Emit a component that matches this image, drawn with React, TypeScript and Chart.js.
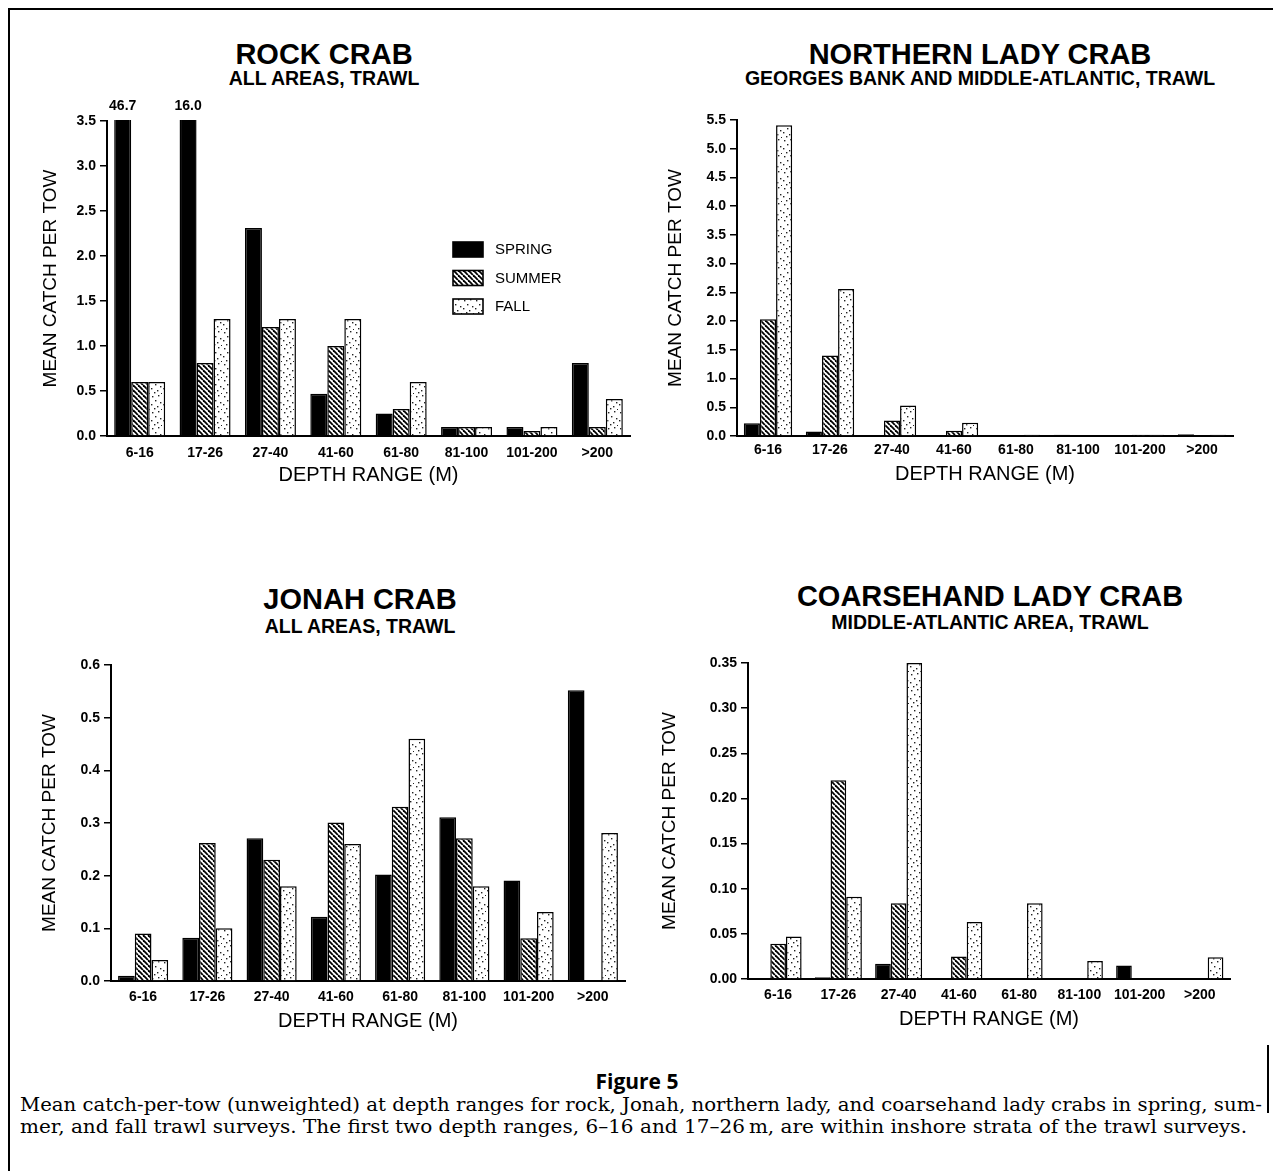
import React, { useEffect, useLayoutEffect, useRef } from "react";
import { Chart, registerables } from "chart.js";
Chart.register(...registerables);

// ---------------- DATA ----------------
const depthRanges = ["6-16", "17-26", "27-40", "41-60", "61-80", "81-100", "101-200", ">200"];
const seasons = ["SPRING", "SUMMER", "FALL"];

const rockSpring = [46.7, 16.0, 2.31, 0.47, 0.25, 0.1, 0.1, 0.81];
const rockSummer = [0.6, 0.81, 1.21, 1.0, 0.3, 0.1, 0.055, 0.1];
const rockFall = [0.6, 1.3, 1.3, 1.3, 0.6, 0.1, 0.1, 0.41];
const rockYTicks = [0, 0.5, 1.0, 1.5, 2.0, 2.5, 3.0, 3.5];

const northernSpring = [0.22, 0.08, 0.01, 0.01, 0.01, 0.02, 0.01, 0.03];
const northernSummer = [2.03, 1.4, 0.27, 0.09, 0.01, 0.01, 0.02, 0.01];
const northernFall = [5.41, 2.56, 0.53, 0.23, 0.02, 0.01, 0.02, 0.02];
const northernYTicks = [0, 0.5, 1.0, 1.5, 2.0, 2.5, 3.0, 3.5, 4.0, 4.5, 5.0, 5.5];

const jonahSpring = [0.01, 0.082, 0.271, 0.122, 0.202, 0.311, 0.191, 0.552];
const jonahSummer = [0.09, 0.262, 0.23, 0.301, 0.331, 0.271, 0.081, 0.0];
const jonahFall = [0.04, 0.1, 0.18, 0.26, 0.46, 0.18, 0.131, 0.281];
const jonahYTicks = [0, 0.1, 0.2, 0.3, 0.4, 0.5, 0.6];

const coarseSpring = [0, 0.002, 0.017, 0, 0, 0.001, 0.015, 0.001];
const coarseSummer = [0.039, 0.22, 0.084, 0.025, 0, 0, 0.001, 0];
const coarseFall = [0.047, 0.091, 0.35, 0.063, 0.084, 0.02, 0, 0.024];
const coarseYTicks = [0, 0.05, 0.1, 0.15, 0.2, 0.25, 0.3, 0.35];

const panelTitles = ["ROCK CRAB", "NORTHERN LADY CRAB", "JONAH CRAB", "COARSEHAND LADY CRAB"];
const panelSubtitles = [
  "ALL AREAS, TRAWL",
  "GEORGES BANK AND MIDDLE-ATLANTIC, TRAWL",
  "ALL AREAS, TRAWL",
  "MIDDLE-ATLANTIC AREA, TRAWL",
];
const xAxisTitle = "DEPTH RANGE (M)";
const yAxisTitle = "MEAN CATCH PER TOW";
const figureLabel = "Figure 5";
const captionLines = [
  "Mean catch-per-tow (unweighted) at depth ranges for rock, Jonah, northern lady, and coarsehand lady crabs in spring, sum-",
  "mer, and fall trawl surveys. The first two depth ranges, 6\u201316 and 17\u201326\u2009m, are within inshore strata of the trawl surveys.",
];

// ---------------- LAYOUT / STYLE ----------------
const SANS = "'Liberation Sans', Arial, Helvetica, sans-serif";
const SERIF = "'DejaVu Serif', 'Liberation Serif', serif";

type Rect = { l: number; t: number; r: number; b: number };
type Panel = {
  spring: number[];
  summer: number[];
  fall: number[];
  yTicks: number[];
  decimals: number;
  plot: Rect;
  canvas: { x: number; y: number; w: number; h: number };
  yTitleX: number;
  xTitleY: number;
  xTickY: number;
  titleCx: number;
  titleBase: number;
  subBase: number;
  legend?: { x: number; y: number };
};

const panels: Panel[] = [
  {
    spring: rockSpring, summer: rockSummer, fall: rockFall, yTicks: rockYTicks, decimals: 1,
    plot: { l: 107, t: 121, r: 630, b: 436 },
    canvas: { x: 18, y: 90, w: 624, h: 404 },
    yTitleX: 51, xTitleY: 475, xTickY: 453,
    titleCx: 324, titleBase: 65, subBase: 86,
    legend: { x: 453, y: 242 },
  },
  {
    spring: northernSpring, summer: northernSummer, fall: northernFall, yTicks: northernYTicks, decimals: 1,
    plot: { l: 737, t: 120, r: 1233, b: 436 },
    canvas: { x: 650, y: 90, w: 600, h: 404 },
    yTitleX: 676, xTitleY: 474, xTickY: 450,
    titleCx: 980, titleBase: 65, subBase: 86,
  },
  {
    spring: jonahSpring, summer: jonahSummer, fall: jonahFall, yTicks: jonahYTicks, decimals: 1,
    plot: { l: 111, t: 665, r: 625, b: 981 },
    canvas: { x: 18, y: 640, w: 624, h: 402 },
    yTitleX: 50, xTitleY: 1021, xTickY: 997,
    titleCx: 360, titleBase: 610, subBase: 634,
  },
  {
    spring: coarseSpring, summer: coarseSummer, fall: coarseFall, yTicks: coarseYTicks, decimals: 2,
    plot: { l: 748, t: 663, r: 1230, b: 979 },
    canvas: { x: 645, y: 640, w: 605, h: 402 },
    yTitleX: 670, xTitleY: 1019, xTickY: 995,
    titleCx: 990, titleBase: 607, subBase: 630,
  },
];

function makeHatch(): CanvasPattern | string {
  const s = 5;
  const c = document.createElement("canvas");
  c.width = s;
  c.height = s;
  const g = c.getContext("2d");
  if (!g) return "#777";
  g.fillStyle = "#fff";
  g.fillRect(0, 0, s, s);
  g.strokeStyle = "#000";
  g.lineWidth = 1.8;
  for (const k of [-1, 0, 1]) {
    g.beginPath();
    g.moveTo(k * s, 0);
    g.lineTo(k * s + s, s);
    g.stroke();
  }
  return g.createPattern(c, "repeat") || "#777";
}

function makeStipple(): CanvasPattern | string {
  const w = 12, h = 16;
  const c = document.createElement("canvas");
  c.width = w;
  c.height = h;
  const g = c.getContext("2d");
  if (!g) return "#eee";
  g.fillStyle = "#fff";
  g.fillRect(0, 0, w, h);
  g.fillStyle = "#222";
  const dots = [[2, 2], [8, 1], [5, 6], [10, 8], [1, 10], [7, 12], [4, 14], [11, 15]];
  for (const [x, y] of dots) g.fillRect(x, y, 1.4, 1.4);
  return g.createPattern(c, "repeat") || "#eee";
}

function buildChart(canvas: HTMLCanvasElement, p: Panel, hatch: any, stipple: any): Chart {
  const yAxisW = p.plot.l - p.canvas.x;
  const xAxisH = p.canvas.y + p.canvas.h - p.plot.b;
  const padTop = p.plot.t - p.canvas.y;
  const padRight = p.canvas.x + p.canvas.w - p.plot.r;
  const tickSize = 14;
  const yTitleSize = 19;
  const xTitleSize = 20;
  const yTitlePad = p.yTitleX - p.canvas.x - (yTitleSize * 1.2) / 2;
  const xTitlePad = p.canvas.y + p.canvas.h - p.xTitleY - (xTitleSize * 1.2) / 2;
  const xTickPad = p.xTickY - p.plot.b - (tickSize * 1.2) / 2;
  const yMin = p.yTicks[0];
  const yMax = p.yTicks[p.yTicks.length - 1];

  const overflowLabels = {
    id: "overflowLabels",
    afterDatasetsDraw(chart: any) {
      const meta = chart.getDatasetMeta(0);
      const ctx = chart.ctx;
      ctx.save();
      ctx.font = `bold ${tickSize}px ${SANS}`;
      ctx.fillStyle = "#000";
      ctx.textAlign = "center";
      ctx.textBaseline = "middle";
      (chart.data.datasets[0].data as number[]).forEach((v, i) => {
        if (v > yMax) ctx.fillText(v.toFixed(1), meta.data[i].x, chart.chartArea.top - 15);
      });
      ctx.restore();
    },
  };

  const insideLegend = {
    id: "insideLegend",
    afterDraw(chart: any) {
      if (!p.legend) return;
      const ctx = chart.ctx;
      const bx = p.legend.x - p.canvas.x;
      const by = p.legend.y - p.canvas.y;
      const fills = ["#000", hatch, stipple];
      ctx.save();
      ctx.font = `15px ${SANS}`;
      ctx.textBaseline = "middle";
      ctx.textAlign = "left";
      chart.data.datasets.forEach((ds: any, i: number) => {
        const y = by + i * 28.5;
        ctx.fillStyle = fills[i];
        ctx.fillRect(bx, y, 30, 15);
        ctx.strokeStyle = "#000";
        ctx.lineWidth = 1.6;
        ctx.strokeRect(bx, y, 30, 15);
        ctx.fillStyle = "#000";
        ctx.fillText(ds.label, bx + 42, y + 8);
      });
      ctx.restore();
    },
  };

  const clip = { left: 0, right: 0, top: 1, bottom: 1 };

  return new Chart(canvas, {
    type: "bar",
    data: {
      labels: depthRanges,
      datasets: [
        { label: seasons[0], data: p.spring, backgroundColor: "#000", borderColor: "#000", borderWidth: 1.5, clip },
        { label: seasons[1], data: p.summer, backgroundColor: hatch, borderColor: "#000", borderWidth: 1.5, clip },
        { label: seasons[2], data: p.fall, backgroundColor: stipple, borderColor: "#000", borderWidth: 1.5, clip },
      ],
    } as any,
    options: {
      animation: false,
      responsive: false,
      maintainAspectRatio: false,
      devicePixelRatio: 1,
      layout: { padding: { top: padTop, right: padRight, left: 0, bottom: 0 } },
      datasets: { bar: { categoryPercentage: 0.78, barPercentage: 1.0 } },
      plugins: { legend: { display: false }, tooltip: { enabled: false }, title: { display: false } },
      scales: {
        x: {
          type: "category",
          offset: true,
          grid: { display: false, drawTicks: false, tickLength: 0 },
          border: { display: true, color: "#000", width: 2 },
          ticks: {
            color: "#000",
            font: { family: SANS, size: tickSize, weight: "bold" },
            padding: xTickPad,
            maxRotation: 0,
            autoSkip: false,
          },
          title: {
            display: true,
            text: xAxisTitle,
            color: "#000",
            font: { family: SANS, size: xTitleSize, weight: "normal", lineHeight: 1.2 },
            padding: { top: 0, bottom: xTitlePad },
          },
          afterFit: (s: any) => {
            s.height = xAxisH;
          },
        },
        y: {
          type: "linear",
          min: yMin,
          max: yMax,
          afterBuildTicks: (s: any) => {
            s.ticks = p.yTicks.map((v) => ({ value: v }));
          },
          grid: { display: true, drawOnChartArea: false, drawTicks: true, tickLength: 7, color: "#000", lineWidth: 1.5 },
          border: { display: true, color: "#000", width: 2 },
          ticks: {
            color: "#000",
            font: { family: SANS, size: tickSize, weight: "bold" },
            padding: 4,
            callback: (v: any) => Number(v).toFixed(p.decimals),
          },
          title: {
            display: true,
            text: yAxisTitle,
            color: "#000",
            font: { family: SANS, size: yTitleSize, weight: "normal", lineHeight: 1.2 },
            padding: { top: yTitlePad, bottom: 0 },
          },
          afterFit: (s: any) => {
            s.width = yAxisW;
          },
        },
      },
    } as any,
    plugins: [overflowLabels, insideLegend],
  });
}

function ChartPanel({ p, idx }: { p: Panel; idx: number }) {
  const ref = useRef<HTMLCanvasElement | null>(null);
  useEffect(() => {
    if (!ref.current) return;
    const chart = buildChart(ref.current, p, makeHatch(), makeStipple());
    return () => chart.destroy();
  }, [p]);
  const titleSize = 29;
  const subSize = 19.5;
  return (
    <>
      <canvas
        ref={ref}
        width={p.canvas.w}
        height={p.canvas.h}
        style={{ position: "absolute", left: p.canvas.x, top: p.canvas.y, width: p.canvas.w, height: p.canvas.h }}
      />
      <div
        style={{
          position: "absolute",
          left: p.titleCx - 300,
          width: 600,
          top: p.titleBase - 0.8465 * titleSize,
          textAlign: "center",
          font: `bold ${titleSize}px ${SANS}`,
          lineHeight: `${titleSize}px`,
          whiteSpace: "nowrap",
          color: "#000",
        }}
      >
        {panelTitles[idx]}
      </div>
      <div
        style={{
          position: "absolute",
          left: p.titleCx - 300,
          width: 600,
          top: p.subBase - 0.8465 * subSize,
          textAlign: "center",
          font: `bold ${subSize}px ${SANS}`,
          lineHeight: `${subSize}px`,
          whiteSpace: "nowrap",
          color: "#000",
        }}
      >
        {panelSubtitles[idx]}
      </div>
    </>
  );
}

function FitLine({ text, left, top, width }: { text: string; left: number; top: number; width: number }) {
  const ref = useRef<HTMLSpanElement | null>(null);
  useLayoutEffect(() => {
    const el = ref.current;
    if (!el) return;
    el.style.transform = "none";
    const w = el.getBoundingClientRect().width;
    if (w > 0) el.style.transform = `scaleX(${width / w})`;
  }, [text, width]);
  return (
    <span
      ref={ref}
      style={{
        position: "absolute",
        left,
        top,
        whiteSpace: "nowrap",
        transformOrigin: "0 0",
        font: `18px ${SERIF}`,
        lineHeight: "22px",
        color: "#000",
      }}
    >
      {text}
    </span>
  );
}

export default function App() {
  return (
    <div
      style={{
        position: "absolute",
        left: 0,
        top: 0,
        width: 1273,
        height: 1171,
        background: "#fff",
        overflow: "hidden",
      }}
    >
      {/* frame */}
      <div style={{ position: "absolute", left: 8, top: 8, width: 1265, height: 2, background: "#000" }} />
      <div style={{ position: "absolute", left: 8, top: 8, width: 2, height: 1163, background: "#000" }} />
      <div style={{ position: "absolute", left: 1267, top: 1045, width: 2, height: 68, background: "#000" }} />

      {panels.map((p, i) => (
        <ChartPanel key={i} p={p} idx={i} />
      ))}

      <div
        style={{
          position: "absolute",
          left: 437,
          width: 400,
          top: 1070,
          textAlign: "center",
          font: `bold 21px 'Open Sans', 'Noto Sans', sans-serif`,
          lineHeight: "22px",
          color: "#000",
        }}
      >
        {figureLabel}
      </div>
      <FitLine text={captionLines[0]} left={20} top={1094} width={1242} />
      <FitLine text={captionLines[1]} left={20} top={1116} width={1227} />
    </div>
  );
}
